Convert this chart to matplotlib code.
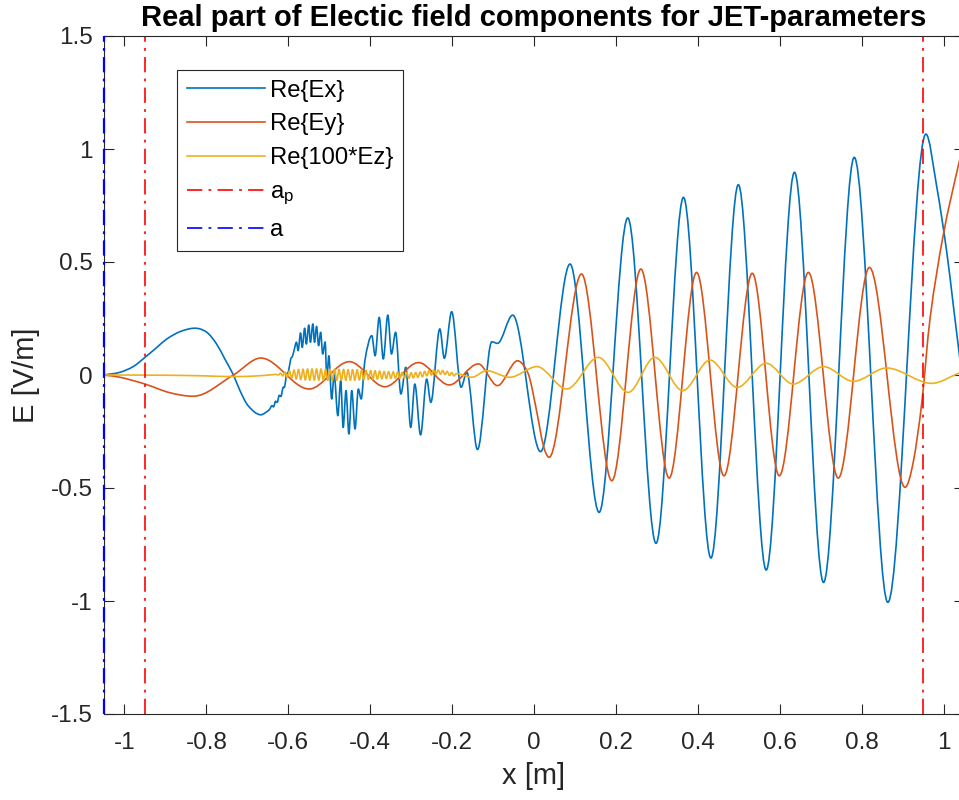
import matplotlib
matplotlib.use("Agg")
import matplotlib.pyplot as plt
from matplotlib.path import Path
from matplotlib.patches import PathPatch
from matplotlib.lines import Line2D

# ---------------------------------------------------------------------------
# Field profiles across the JET minor radius (real parts)
# ---------------------------------------------------------------------------
ex_x = [-1.050, -1.011, -0.978, -0.950, -0.921, -0.897, -0.864, -0.828, -0.799,
        -0.775, -0.755, -0.734, -0.718, -0.698, -0.667, -0.649, -0.645, -0.640,
        -0.636, -0.631, -0.627, -0.622, -0.618, -0.613, -0.609, -0.604, -0.600,
        -0.594, -0.590, -0.586,
        -0.580, -0.576, -0.570, -0.566, -0.560, -0.556, -0.550, -0.546, -0.540,
        -0.536, -0.531, -0.526, -0.521, -0.516, -0.510, -0.506, -0.501, -0.494,
        -0.488, -0.479, -0.472, -0.466, -0.459, -0.452, -0.445, -0.437, -0.429,
        -0.422, -0.413, -0.396, -0.388, -0.378, -0.368, -0.357, -0.348, -0.338,
        -0.325, -0.313, -0.301, -0.291, -0.277, -0.262, -0.252, -0.230, -0.219,
        -0.201, -0.178, -0.164, -0.138, -0.103, -0.089, -0.052, 0.016, 0.088,
        0.159, 0.229, 0.298, 0.365, 0.432, 0.499, 0.567, 0.636, 0.707, 0.782,
        0.864, 0.957, 0.983, 1.008, 1.024, 1.038, 1.050]
ex_y = [0.000, 0.012, 0.038, 0.078, 0.122, 0.159, 0.192, 0.207, 0.189,
        0.137, 0.071, 0.000, -0.069, -0.136, -0.176, -0.158, -0.150, -0.136,
        -0.141, -0.116, -0.121, -0.090, -0.095, -0.056, -0.052, 0.004, 0.012,
        0.071, 0.082, 0.108,
        0.145, 0.108, 0.186, 0.122, 0.207, 0.137, 0.221, 0.145, 0.226,
        0.145, 0.215, 0.130, 0.189, 0.093, 0.146, -0.018, 0.085, -0.106,
        0.004, -0.180, -0.025, -0.232, -0.069, -0.261, -0.069, -0.239, -0.062,
        -0.106, 0.063, 0.174, 0.085, 0.255, 0.071, 0.265, 0.093, 0.189,
        -0.084, 0.034, -0.232, -0.040, -0.265, -0.018, -0.121, 0.204, 0.074,
        0.280, -0.054, 0.012, -0.330, 0.147, 0.140, 0.265, -0.339, 0.491,
        -0.608, 0.695, -0.745, 0.786, -0.810, 0.842, -0.863, 0.897, -0.918, 0.963,
        -1.006, 1.066, 0.838, 0.543, 0.307, 0.100, -0.070]

ey_x = [-1.050, -1.011, -0.950, -0.890, -0.832, -0.734, -0.667, -0.549, -0.451,
        -0.364, -0.282, -0.207, -0.136, -0.089, -0.040, -0.022, -0.010, 0.007,
        0.023, 0.037, 0.116, 0.190, 0.261, 0.330, 0.397, 0.464, 0.533, 0.599,
        0.670, 0.743, 0.819, 0.906, 0.926, 0.947, 0.967, 0.999, 1.038, 1.050]
ey_y = [0.000, -0.010, -0.040, -0.078, -0.094, 0.000, 0.075, -0.062, 0.059,
        -0.052, 0.055, -0.044, 0.049, -0.047, 0.063, 0.034, -0.018, -0.165,
        -0.313, -0.364, 0.447, -0.468, 0.469, -0.456, 0.454, -0.446, 0.450, -0.446,
        0.454, -0.456, 0.476, -0.497, -0.386, -0.121, 0.248, 0.616, 0.941, 1.020]

ez_x = [-1.050, -0.900, -0.800, -0.740, -0.700, -0.660, -0.635,
        -0.630, -0.6245, -0.619, -0.6135, -0.608, -0.6025, -0.597, -0.5915,
        -0.586, -0.5805, -0.575, -0.5695, -0.564, -0.5585, -0.553, -0.5475,
        -0.542, -0.5365, -0.531, -0.5255, -0.520, -0.5145, -0.509, -0.5035,
        -0.498, -0.4925, -0.487, -0.4815, -0.476, -0.4705, -0.465, -0.4595,
        -0.454, -0.4485, -0.443, -0.4375, -0.432, -0.4265, -0.421, -0.4155,
        -0.410, -0.4045, -0.399, -0.3935, -0.388, -0.3825, -0.377, -0.3715,
        -0.366, -0.3605, -0.355, -0.3495, -0.344, -0.3385, -0.333, -0.3275,
        -0.322, -0.3165, -0.311, -0.3055, -0.300, -0.2945, -0.289, -0.2835,
        -0.278, -0.2725, -0.267, -0.2615, -0.256, -0.2505, -0.245, -0.2395,
        -0.234, -0.2285, -0.223, -0.2175, -0.212, -0.2065, -0.201, -0.1955,
        -0.190, -0.175, -0.152, -0.116, -0.059, 0.007, 0.080, 0.157, 0.230,
        0.295, 0.363, 0.430, 0.496, 0.567, 0.633, 0.707, 0.780, 0.861, 0.971,
        1.038, 1.050]
ez_y = [0.000, -0.001, -0.004, -0.007, -0.006, -0.002, 0.002,
        0.003, 0.000, 0.008, -0.004, 0.013, -0.009, 0.018, -0.014,
        0.022, -0.018, 0.025, -0.021, 0.026, -0.022, 0.027, -0.023,
        0.027, -0.023, 0.027, -0.023, 0.027, -0.023, 0.026, -0.024,
        0.026, -0.024, 0.026, -0.024, 0.025, -0.024, 0.025, -0.024,
        0.024, -0.023, 0.024, -0.023, 0.023, -0.022, 0.022, -0.021,
        0.021, -0.020, 0.020, -0.019, 0.019, -0.018, 0.018, -0.017,
        0.016, -0.016, 0.015, -0.015, 0.014, -0.014, 0.013, -0.014,
        0.012, -0.014, 0.011, -0.014, 0.010, -0.013, 0.011, -0.011,
        0.013, -0.008, 0.016, -0.004, 0.020, 0.000, 0.022, 0.003,
        0.022, 0.004, 0.020, 0.002, 0.016, -0.002, 0.011, -0.004,
        0.006, 0.000, -0.010, 0.019, -0.010, 0.037, -0.062, 0.078, -0.077,
        0.078, -0.069, 0.066, -0.055, 0.052, -0.040, 0.037, -0.028, 0.031, -0.037,
        0.009, 0.020]

a_plasma = 0.95   # plasma edge
a_wall = 1.05     # wall radius

x_ticks = [-1.0, -0.8, -0.6, -0.4, -0.2, 0.0, 0.2, 0.4, 0.6, 0.8, 1.0]
x_tick_labels = ["-1", "-0.8", "-0.6", "-0.4", "-0.2", "0",
                 "0.2", "0.4", "0.6", "0.8", "1"]
y_ticks = [-1.5, -1.0, -0.5, 0.0, 0.5, 1.0, 1.5]
y_tick_labels = ["-1.5", "-1", "-0.5", "0", "0.5", "1", "1.5"]

series_labels = ["Re{Ex}", "Re{Ey}", "Re{100*Ez}", r"a$_{\rm p}$", "a"]
title_text = "Real part of Electic field components for JET-parameters"

# ---------------------------------------------------------------------------
plt.rcParams.update({
    "font.family": ["Liberation Sans", "DejaVu Sans"],
    "axes.unicode_minus": False,
    "mathtext.fontset": "custom",
    "mathtext.rm": "Liberation Sans",
    "mathtext.it": "Liberation Sans:italic",
    "lines.scale_dashes": False,
})

ink = "#262626"
c_ex, c_ey, c_ez = "#0072BD", "#D95319", "#EDB120"
dashdot = (0, (11.0, 4.5, 2.0, 4.5))
lw_curve = 1.2


def smooth_curve(xs, ys):
    """Smooth (Hermite/Bezier) path through the sample points, flat at extrema."""
    n = len(xs)
    slopes = []
    for i in range(n):
        if i == 0:
            slopes.append((ys[1] - ys[0]) / (xs[1] - xs[0]))
        elif i == n - 1:
            slopes.append((ys[-1] - ys[-2]) / (xs[-1] - xs[-2]))
        elif (ys[i] - ys[i - 1]) * (ys[i + 1] - ys[i]) <= 0:
            slopes.append(0.0)
        else:
            slopes.append((ys[i + 1] - ys[i - 1]) / (xs[i + 1] - xs[i - 1]))
    verts = [(xs[0], ys[0])]
    codes = [Path.MOVETO]
    for i in range(n - 1):
        h = xs[i + 1] - xs[i]
        verts += [(xs[i] + h / 3, ys[i] + slopes[i] * h / 3),
                  (xs[i + 1] - h / 3, ys[i + 1] - slopes[i + 1] * h / 3),
                  (xs[i + 1], ys[i + 1])]
        codes += [Path.CURVE4] * 3
    return Path(verts, codes)


fig = plt.figure(figsize=(9.59, 8.0), dpi=100)
ax = fig.add_axes([104 / 959, 86 / 800, 860 / 959, 678 / 800])

for xs, ys, col in ((ex_x, ex_y, c_ex), (ey_x, ey_y, c_ey), (ez_x, ez_y, c_ez)):
    ax.add_patch(PathPatch(smooth_curve(xs, ys), facecolor="none", edgecolor=col,
                           lw=lw_curve, zorder=2, joinstyle="round",
                           capstyle="round"))

ax.axvline(-a_plasma, color="#FF0000", lw=1.2, ls=dashdot)
ax.axvline(a_plasma, color="#FF0000", lw=1.2, ls=dashdot)
ax.axvline(-a_wall, color="#0000FF", lw=1.6, ls=dashdot, clip_on=False, zorder=5)
ax.axvline(a_wall, color="#0000FF", lw=1.6, ls=dashdot, clip_on=False, zorder=5)

ax.set_xlim(-a_wall, a_wall)
ax.set_ylim(-1.5, 1.5)
ax.set_xticks(x_ticks)
ax.set_xticklabels(x_tick_labels)
ax.set_yticks(y_ticks)
ax.set_yticklabels(y_tick_labels)
ax.tick_params(direction="in", length=7, width=0.8, top=True, right=True,
               labelsize=17.5, colors=ink)
ax.tick_params(axis="x", pad=13)
ax.tick_params(axis="y", pad=8)
for sp in ax.spines.values():
    sp.set_color(ink)
    sp.set_linewidth(0.8)

ax.set_xlabel("x [m]", fontsize=21, color=ink, labelpad=6)
ax.set_ylabel("E [V/m]", fontsize=21, color=ink, labelpad=8)
ax.set_title(title_text, fontsize=21, fontweight="bold", color="black", pad=7)

handles = [Line2D([], [], color=c_ex, lw=lw_curve),
           Line2D([], [], color=c_ey, lw=lw_curve),
           Line2D([], [], color=c_ez, lw=lw_curve),
           Line2D([], [], color="#FF0000", lw=1.2, ls=dashdot),
           Line2D([], [], color="#0000FF", lw=1.2, ls=dashdot)]
leg = ax.legend(handles, series_labels, loc="upper left",
                bbox_to_anchor=(73 / 860, 1 - 34 / 678),
                borderaxespad=0, fontsize=17.2, frameon=True, fancybox=False,
                framealpha=1, edgecolor=ink, handlelength=3.3,
                handletextpad=0.2, labelspacing=0.5, borderpad=0.4)
leg.get_frame().set_linewidth(0.8)

fig.savefig("out.png", dpi=100, facecolor="white")
